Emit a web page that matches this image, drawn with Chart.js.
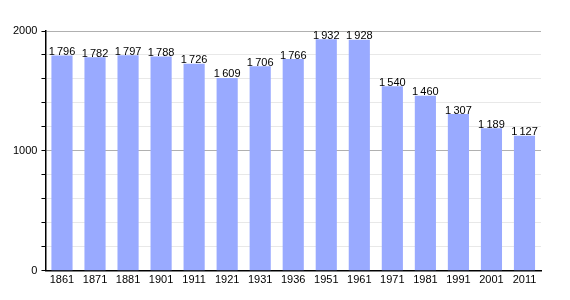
<!DOCTYPE html>
<html>
<head>
<meta charset="utf-8">
<script src="https://cdn.jsdelivr.net/npm/chart.js@4"></script>
<style>
  html, body { margin: 0; padding: 0; background: #fff; }
  #wrap { width: 570px; height: 300px; }
</style>
</head>
<body>
<div id="wrap"><canvas id="popChart" width="570" height="300"></canvas></div>
<script>
// 연도별 인구
const years = ['1861', '1871', '1881', '1901', '1911', '1921', '1931', '1936', '1951', '1961', '1971', '1981', '1991', '2001', '2011'];
const population = [1796, 1782, 1797, 1788, 1726, 1609, 1706, 1766, 1932, 1928, 1540, 1460, 1307, 1189, 1127];
const yTicks = [0, 1000, 2000];

// 막대 위 숫자 표시
const valueLabels = {
    id: 'valueLabels',
    afterDatasetsDraw(chart) {
        const ctx = chart.ctx;
        const meta = chart.getDatasetMeta(0);
        ctx.save();
        ctx.font = '11px "Liberation Sans", Arial, sans-serif';
        ctx.fillStyle = '#000';
        ctx.textAlign = 'center';
        ctx.textBaseline = 'bottom';
        meta.data.forEach((bar, i) => {
            const v = population[i];
            const txt = Math.floor(v / 1000) + '\u2009' + String(v % 1000).padStart(3, '0');
            ctx.fillText(txt, bar.x, bar.y + 2);
        });
        ctx.restore();
    }
};

new Chart(document.getElementById('popChart').getContext('2d'), {
    type: 'bar',
    data: {
        labels: years,
        datasets: [{
            data: population,
            backgroundColor: '#99aaff',
            borderWidth: 0,
            barPercentage: 0.64,
            categoryPercentage: 1.0
        }]
    },
    options: {
        responsive: false,
        animation: false,
        layout: { padding: { top: 31, right: 29, bottom: 10, left: 9 } },
        plugins: {
            legend: { display: false },
            tooltip: { enabled: false }
        },
        scales: {
            x: {
                grid: { display: false, drawTicks: false },
                border: { color: '#000', width: 1.5 },
                ticks: {
                    color: '#000',
                    font: { family: '"Liberation Sans", Arial, sans-serif', size: 11 },
                    padding: 3,
                    maxRotation: 0,
                    autoSkip: false
                }
            },
            y: {
                min: 0,
                max: 2000,
                border: { color: '#000', width: 1.5 },
                grid: {
                    color: c => (c.tick && c.tick.value % 1000 === 0) ? '#b0b0b0' : '#e8e8e8',
                    tickColor: '#000',
                    tickLength: 4,
                    drawTicks: true
                },
                ticks: {
                    stepSize: 200,
                    color: '#000',
                    font: { family: '"Liberation Sans", Arial, sans-serif', size: 11 },
                    padding: 4,
                    autoSkip: false,
                    callback: v => yTicks.includes(v) ? String(v) : ''
                }
            }
        }
    },
    plugins: [valueLabels]
});
</script>
</body>
</html>
